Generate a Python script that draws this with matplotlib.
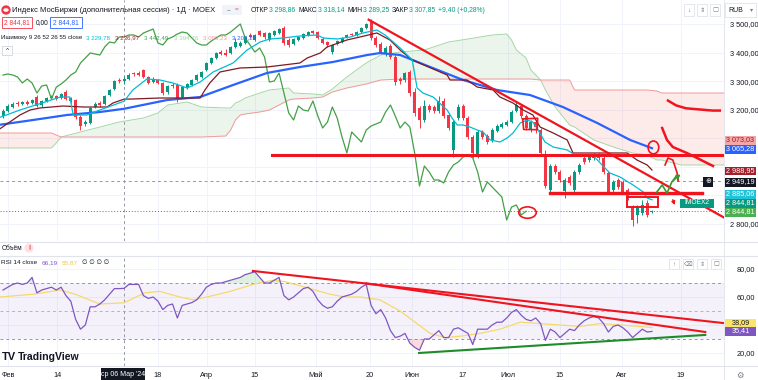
import numpy as np
import matplotlib.pyplot as plt
from matplotlib.patches import Rectangle, Ellipse

plt.rcParams['font.family'] = ['Liberation Sans', 'DejaVu Sans']

# ---- candles (IMOEX2, daily), Jan 31 .. Aug 8 2024
opens = [3178, 3195.5, 3209.5, 3223.5, 3220, 3227, 3223.5, 3244.5, 3216.5, 3230.5,
         3244.5, 3248, 3241, 3262, 3241, 3234, 3174.5, 3150, 3153.5, 3209.5,
         3223.5, 3220, 3251.5, 3272.5, 3304, 3298.86, 3307.5, 3328.5, 3328.5, 3339,
         3314.5, 3297, 3304, 3293.5, 3262, 3283, 3286.5, 3244.5, 3276, 3286.5,
         3304, 3314.5, 3339, 3363.5, 3381, 3402, 3398.5, 3398.5, 3419.5, 3423,
         3433.5, 3461.5, 3444, 3475.5, 3468.5, 3444, 3461.5, 3468.5, 3486, 3444,
         3430, 3444, 3451, 3461.5, 3475.5, 3472, 3447.5, 3437, 3402, 3430,
         3437, 3454.5, 3465, 3461.5, 3472, 3486, 3507, 3451,
         3430, 3395, 3423, 3384.5, 3307.5, 3304, 3332, 3262, 3206, 3164,
         3213, 3209.5, 3195.5, 3230.5, 3181.5, 3059, 3171, 3213, 3171, 3104.5,
         3041.5, 3122, 3108, 3094, 3125.5, 3139.5, 3146.5, 3157, 3195.5, 3213,
         3178, 3129, 3157, 3129, 3041.5, 2919, 3003, 2982, 2915.5, 2964.5,
         2919, 2982, 3031, 3024, 3031, 3041.5, 3031, 2978.5, 2919, 2954,
         2947, 2919, 2859.5, 2831.5, 2838.5, 2873.5, 2842]
closes = [3195.5, 3213, 3220, 3220, 3227, 3220, 3234, 3213, 3230.5, 3241,
          3241, 3237.5, 3255, 3237.5, 3230.5, 3174.5, 3143, 3157, 3206, 3220,
          3216.5, 3248, 3269, 3300.5, 3300.5, 3307.85, 3321.5, 3325, 3321.5, 3314.5,
          3293.5, 3307.5, 3293.5, 3258.5, 3283, 3286.5, 3237.5, 3279, 3290, 3304,
          3321.5, 3332, 3363.5, 3381, 3398.5, 3395, 3391.5, 3419.5, 3437, 3433.5,
          3454.5, 3454.5, 3461.5, 3461.5, 3454.5, 3468.5, 3475.5, 3482.5, 3433.5, 3426.5,
          3447.5, 3454.5, 3465, 3472, 3468.5, 3451, 3433.5, 3426.5, 3426.5, 3440.5,
          3451, 3461.5, 3461.5, 3472, 3486, 3500, 3451, 3426.5,
          3402, 3416, 3384.5, 3297, 3300.5, 3328.5, 3258.5, 3188.5, 3164, 3213,
          3199, 3195.5, 3230.5, 3178, 3136, 3157, 3209.5, 3171, 3104.5, 3048.5,
          3122, 3104.5, 3087, 3129, 3143, 3150, 3157, 3192, 3216.5, 3178,
          3136, 3157, 3139.5, 3048.5, 2933, 3003, 2982, 2954, 2954, 2943.5,
          2982, 3006.5, 3017, 3034.5, 3041.5, 3031, 2982, 2912, 2947, 2929.5,
          2912, 2894.5, 2814, 2859.5, 2866.5, 2831.5, 2844.81]
highs = [3202.5, 3220, 3227, 3230.5, 3230.5, 3234, 3237.5, 3251.5, 3234, 3244.5,
         3251.5, 3251.5, 3258.5, 3269, 3244.5, 3237.5, 3181.5, 3164, 3209.5, 3227,
         3230.5, 3251.5, 3272.5, 3304, 3311, 3318.14, 3328.5, 3332, 3335.5, 3342.5,
         3318, 3314.5, 3307.5, 3297, 3286.5, 3293.5, 3293.5, 3282.5, 3293.5, 3307.5,
         3325, 3335.5, 3367, 3384.5, 3402, 3409, 3412.5, 3423, 3451, 3440.5,
         3458, 3468.5, 3465, 3479, 3472, 3472, 3479, 3486, 3493, 3451,
         3451, 3458, 3468.5, 3475.5, 3479, 3475.5, 3454.5, 3440.5, 3430, 3444,
         3454.5, 3465, 3468.5, 3475.5, 3489.5, 3503.5, 3517.5, 3458,
         3437, 3423, 3430, 3391.5, 3314.5, 3332, 3339, 3276, 3213, 3234,
         3220, 3216.5, 3248, 3241, 3188.5, 3164, 3220, 3220, 3178, 3111.5,
         3129, 3129, 3115, 3136, 3150, 3157, 3164, 3199, 3227, 3220,
         3185, 3164, 3164, 3136, 3059, 3010, 3010, 2989, 2961, 2971.5,
         2989, 3013.5, 3038, 3041.5, 3048.5, 3048.5, 3038, 2985.5, 2954, 2961,
         2954, 2926, 2866.5, 2866.5, 2884, 2884, 2850]
lows = [3171, 3192, 3206, 3213, 3216.5, 3216.5, 3220, 3209.5, 3209.5, 3227,
        3237.5, 3234, 3237.5, 3234, 3223.5, 3167.5, 3129, 3143, 3150, 3206,
        3209.5, 3216.5, 3248, 3269, 3293.5, 3289.25, 3304, 3318, 3318, 3311,
        3290, 3293.5, 3290, 3251.5, 3255, 3276, 3227, 3241, 3272.5, 3283,
        3300.5, 3311, 3335.5, 3360, 3377.5, 3391.5, 3388, 3395, 3416, 3419.5,
        3430, 3451, 3440.5, 3458, 3447.5, 3440.5, 3458, 3465, 3426.5, 3419.5,
        3426.5, 3440.5, 3447.5, 3458, 3465, 3447.5, 3430, 3419.5, 3395, 3426.5,
        3433.5, 3451, 3458, 3458, 3468.5, 3482.5, 3444, 3419.5,
        3395, 3388, 3377.5, 3286.5, 3290, 3297, 3248, 3178, 3136, 3157,
        3192, 3188.5, 3188.5, 3171, 3129, 3034.5, 3164, 3164, 3097.5, 3031,
        3031, 3097.5, 3080, 3087, 3122, 3136, 3143, 3153.5, 3192, 3171,
        3129, 3122, 3118.5, 3041.5, 2926, 2908.5, 2975, 2947, 2891, 2936.5,
        2912, 2975, 3010, 3017, 3024, 3024, 2975, 2905, 2912, 2922.5,
        2905, 2884, 2793, 2803.5, 2831.5, 2824.5, 2838]

# ---- Ichimoku / MA lines, vertices (bar index, price)
tenkan_x = [-1, 3.5, 8.7, 11.8, 13.8, 14.5, 17.3, 20, 25, 26.8, 29.7, 32.4, 35.1, 38, 40.7, 43.4,
            47.5, 50.4, 53.1, 55.1, 57.8, 61.3, 64.9, 66.1, 69, 71.7, 74.3, 77.2, 78.9, 82, 84.5,
            85.5, 86.7, 88.8, 91.7, 92.7, 93.8, 95, 96.4, 97.9, 99.1, 100.6, 102.6, 104.1, 105.3,
            106.8, 108.2, 109.4, 110.5, 111.9, 113.6, 116.5, 118.1, 121.8, 123.3, 125.3, 127.4,
            130.1, 132.2, 133, 134]
tenkan_y = [3171, 3199, 3227, 3244.5, 3244.5, 3181.5, 3181.5, 3199, 3229.78, 3269, 3307.5, 3304,
            3293.5, 3276, 3297, 3332, 3363.5, 3409, 3437, 3447.5, 3451, 3458, 3461.5, 3451, 3447.5,
            3454.5, 3468.5, 3479, 3461.5, 3416, 3374, 3276, 3258.5, 3244.5, 3199, 3171, 3146.5,
            3146.5, 3139.5, 3129, 3122, 3094, 3087, 3101, 3118.5, 3153.5, 3164, 3157, 3129, 3087,
            3069.5, 3059, 3041.5, 3041.5, 3013.5, 2978.5, 2964.5, 2936.5, 2912, 2891, 2885.06]
kijun_x = [-1, 3.5, 5.6, 7.6, 12.4, 16.5, 21.5, 22.7, 25, 26.8, 32.4, 40.7, 41.7, 42.7, 44.8, 48.9,
           54.5, 61.3, 62.8, 65.5, 66.9, 71, 73.7, 77.2, 79.9, 82, 84.5, 91.7, 92.3, 95.8, 97.9,
           101.2, 102.6, 105.3, 107.4, 109.4, 110.9, 113.6, 116.5, 117.7, 128.9, 130.9, 133, 134]
kijun_y = [3129, 3181.5, 3199, 3206, 3213, 3209.5, 3209.5, 3223.5, 3236.97, 3237.5, 3241, 3241,
           3269, 3293.5, 3332, 3346, 3349.5, 3363.5, 3381, 3398.5, 3419.5, 3444, 3454.5, 3468.5,
           3444, 3409, 3374, 3321.5, 3304, 3304, 3279.5, 3269, 3244.5, 3223.5, 3199, 3181.5,
           3139.5, 3118.5, 3094, 3048.5, 3048.5, 3024, 3006.5, 2988.95]
ma_x = [-1, 6.2, 13.2, 20, 25, 33.9, 40.7, 47.5, 54.5, 61.3, 68.1, 75.2, 77.9, 82, 88.2, 95,
        102, 108.8, 115.6, 122.7, 129.5, 134]
ma_y = [3146.5, 3164, 3181.5, 3192, 3203.29, 3234, 3244.5, 3286.5, 3328.5, 3349.5, 3367, 3391.5,
        3398.5, 3391.5, 3349.5, 3304, 3269, 3251.5, 3209.5, 3153.5, 3094, 3065.28]
cloud_x = [-1, 10, 11, 12, 20, 24, 29, 32, 34, 38, 41, 46, 47, 48, 49, 50, 53, 55, 59, 60, 64, 66,
           68, 71, 75, 78, 82, 87, 92, 96, 101, 104, 105, 106, 108, 109, 111, 112, 114, 117, 118,
           122, 126, 130, 133, 135, 136, 140, 149]
span_a = [3066, 3066, 3083.5, 3104.5, 3139.5, 3157, 3171, 3188.5, 3216.5, 3227, 3209.5, 3206,
          3206, 3223.5, 3230.5, 3241, 3258.5, 3269, 3276, 3258.5, 3255, 3251.5, 3272.5, 3314.5,
          3363.5, 3391.5, 3402, 3409, 3437, 3447.5, 3461.5, 3465, 3444, 3409, 3381, 3339, 3304,
          3269, 3209.5, 3146.5, 3139.5, 3094, 3069.5, 3048.5, 3041.5, 3024, 3024, 3006.5, 3006.5]
span_b = [3118.5, 3118.5, 3111.5, 3104.5, 3104.5, 3104.5, 3104.5, 3104.5, 3104.5, 3104.5, 3104.5,
          3108, 3129, 3164, 3181.5, 3185, 3192, 3199, 3234, 3237.5, 3241, 3244.5, 3262, 3276,
          3290, 3304, 3307.5, 3307.5, 3307.5, 3307.5, 3307.5, 3307.5, 3307.5, 3307.5, 3307.5,
          3307.5, 3304, 3304, 3304, 3304, 3269, 3269, 3269, 3269, 3269, 3265.5, 3258.5, 3258.5,
          3258.5]
chikou_shift = 26

# ---- RSI 14 and its MA
rsi = [65, 67, 69, 70, 69, 70, 74, 63, 65, 66, 67, 65, 67, 61, 57, 44, 37, 40, 53, 53,
       55, 58, 62, 66, 66, 66.19, 69, 69, 69, 61, 59, 60, 57, 51, 54, 55, 45, 54, 55, 56,
       58, 62, 67, 69, 70, 70, 71, 72, 73, 74, 76, 77, 78, 74, 70, 70, 72, 74, 61, 58,
       60, 63, 66, 67, 64, 58, 54, 52, 53, 57, 60, 61, 62, 64, 67, 69, 54, 48,
       51, 45, 36, 31, 32, 34, 27, 24, 22, 30, 30, 33, 36, 31, 31, 37, 38, 36, 34, 26,
       37, 37, 37, 40, 42, 42, 45, 49, 51, 47, 44, 43, 45, 41, 29, 37, 35, 31, 34, 37,
       36, 40, 43, 45, 46, 45, 41, 35, 39, 40, 38, 35, 31, 34, 37, 35, 35.41]
rsi_ma_x = [-0.6, 6.2, 11.8, 14.9, 20, 25, 29.3, 32.4, 36.5, 39.2, 42.1, 46.9, 51.6, 55.8, 58.2,
            63.4, 67.5, 70.6, 73.7, 77.8, 82, 85.1, 88.2, 91.3, 94.4, 98.5, 102.6, 106.8, 110.9,
            115, 119.1, 123.3, 127.4, 131.5, 134]
rsi_ma_y = [60, 62, 65, 62, 55, 55.87, 63, 64, 60, 58, 60, 64, 69, 72, 71, 66, 62, 60, 60, 58, 50,
            42, 34, 31, 32, 34, 37, 42, 41, 40, 39, 41, 40, 39, 38.09]

# ---- axes ticks
tick_pos = [1, 11.2, 32, 42.1, 52, 64.6, 75.8, 84.5, 94.8, 104.3, 115, 127.8, 140]
tick_lbl = ['Фев', '14', '18', 'Апр', '15', 'Май', '20', 'Июн', '17', 'Июл', '15', 'Авг', '19']
price_ticks = [2800, 2900, 3000, 3100, 3200, 3300, 3400, 3500]
price_shown = [2800, 3200, 3300, 3400, 3500]
rsi_ticks = [20, 40, 60, 80]
rsi_shown = [20, 60, 80]
cross_bar = 25
cross_price = 2949.19
last_price = 2844.81

W, H = 758, 380
fig = plt.figure(figsize=(W / 100, H / 100), dpi=100)
fig.patch.set_facecolor('white')
rend = fig.canvas.get_renderer()


def box(x0, y0, x1, y1):
    return [x0 / W, 1 - y1 / H, (x1 - x0) / W, (y1 - y0) / H]


def ftext(x, y, s, **kw):
    kw.setdefault('va', 'center')
    kw.setdefault('fontsize', 5.0)
    kw.setdefault('color', '#131722')
    kw.setdefault('zorder', 7)
    return fig.text(x / W, 1 - y / H, s, **kw)


def seq(x, y, parts, fs):
    # lay out text pieces one after another
    for s, cl, gap in parts:
        t = ftext(x, y, s, fontsize=fs, color=cl)
        x = t.get_window_extent(renderer=rend).x1 + gap


def frect(x0, y0, x1, y1, fc, ec='none', lw=0.6):
    fig.patches.append(Rectangle((x0 / W, 1 - y1 / H), (x1 - x0) / W, (y1 - y0) / H,
                                 transform=fig.transFigure, fc=fc, ec=ec, lw=lw, zorder=5))


def fmt(v):
    return f'{v:,.2f}'.replace(',', ' ').replace('.', ',')


grid_c = '#F0F3FA'
ax = fig.add_axes(box(0, 0, 724, 241))
ax_r = fig.add_axes(box(0, 256, 724, 366))
for a in (ax, ax_r):
    a.set_xlim(-0.62, 148.87)
    for s in a.spines.values():
        s.set_visible(False)
    a.set_xticks(tick_pos)
    a.tick_params(length=0, labelsize=5.3, colors='#131722')
    a.yaxis.tick_right()
    a.set_axisbelow(True)
    a.grid(True, color=grid_c, lw=0.7)
ax.set_ylim(2740.5, 3584)
ax.set_yticks(price_ticks)
ax.set_yticklabels([fmt(v) if v in price_shown else '' for v in price_ticks])
ax.tick_params(axis='x', labelbottom=False)
ax.tick_params(axis='y', pad=4)
ax_r.set_ylim(10.7, 89.3)
ax_r.set_yticks(rsi_ticks)
ax_r.set_yticklabels([fmt(v) if v in rsi_shown else '' for v in rsi_ticks])
ax_r.tick_params(axis='y', pad=9)
ax_r.set_xticklabels(tick_lbl)
ax_r.tick_params(axis='x', pad=4)

# cloud
sa, sb = np.array(span_a), np.array(span_b)
ax.fill_between(cloud_x, sa, sb, where=sa >= sb, interpolate=True, color='#43A047', alpha=0.1, lw=0, zorder=1)
ax.fill_between(cloud_x, sa, sb, where=sa < sb, interpolate=True, color='#F44336', alpha=0.1, lw=0, zorder=1)
ax.plot(cloud_x, sa, color='#A5D6A7', lw=0.7, zorder=2)
ax.plot(cloud_x, sb, color='#EF9A9A', lw=0.7, zorder=2)

# candles
idx = np.arange(len(closes))
o, c, hi, lo = map(np.array, (opens, closes, highs, lows))
col = np.where(c >= o, '#089981', '#F23645')
ax.vlines(idx, lo, hi, colors=col, lw=0.7, zorder=4)
ax.bar(idx, np.maximum(np.abs(c - o), 1.8), bottom=np.minimum(o, c), width=0.62, color=col, lw=0, zorder=5)

# lines
ax.plot(idx[chikou_shift:] - chikou_shift, c[chikou_shift:], color='#43A047', lw=0.9, zorder=6)
ax.plot(ma_x, ma_y, color='#2962FF', lw=1.6, zorder=6)
ax.plot(kijun_x, kijun_y, color='#801922', lw=0.9, zorder=6)
ax.plot(tenkan_x, tenkan_y, color='#00BCD4', lw=0.9, zorder=6)

# crosshair + last price line
ax.axhline(cross_price, color='#9598A1', lw=0.7, ls=(0, (3, 3)), zorder=3)
ax.axhline(last_price, color='#089981', lw=0.7, ls=(0, (1, 2)), zorder=3)
for a in (ax, ax_r):
    a.axvline(cross_bar, color='#9598A1', lw=0.7, ls=(0, (3, 3)), zorder=3)

# hand drawings (main pane)
red = '#F0141E'
ax.plot([75.5, 150], [3515, 2812], color=red, lw=1.6, zorder=8)
ax.plot([55.6, 149], [3041.5, 3041.5], color=red, lw=2.2, zorder=8)
ax.plot([112.9, 144.4], [2907, 2907], color=red, lw=2.4, zorder=8)
ax.add_patch(Rectangle((128.9, 2859.5), 6.4, 35, fill=False, ec=red, lw=1.4, zorder=8))
ax.plot([107.3, 107.5, 110.3, 110.4, 107.3], [3168, 3131, 3130, 3170, 3168], color=red, lw=1.2, zorder=8)
ax.add_patch(Ellipse((108.3, 2840), 3.6, 40, fill=False, ec=red, lw=1.2, zorder=8))
ax.add_patch(Ellipse((134.3, 3068), 2.2, 45, fill=False, ec=red, lw=1.2, zorder=8))
ax.plot([137.3, 139.0, 141, 146.5, 148], [3232, 3215, 3205, 3197, 3197], color=red, lw=1.8, zorder=8)
ax.plot([136.1, 137.1, 138.3, 141.2, 143.3, 146.6], [3136, 3094, 3069.5, 3048.5, 3031, 3003], color=red, lw=1.8, zorder=8)
ax.plot([136.7, 137.3, 138.3, 139.2, 139.4], [3006.5, 3031, 3024, 2978.5, 2950.5], color=red, lw=1.2, zorder=8)
ax.annotate('', xy=(139.4, 2945), xytext=(139.3, 2965),
            arrowprops=dict(arrowstyle='-|>', color=red, lw=1.0, mutation_scale=5), zorder=8)
ax.annotate('', xy=(138.9, 2857), xytext=(138.1, 2894),
            arrowprops=dict(arrowstyle='-|>', color=red, lw=1.0, mutation_scale=5), zorder=8)
ax.plot([135.0, 136.1, 137.1, 138.1, 139.2], [2912, 2936.5, 2908.5, 2947, 2971.5], color='#2E9E2E', lw=1.2, zorder=8)
ax.annotate('', xy=(140.3, 2980), xytext=(138.1, 2947),
            arrowprops=dict(arrowstyle='-|>', color='#2E9E2E', lw=1.0, mutation_scale=5), zorder=8)

# RSI pane
rx = np.arange(len(rsi))
rv = np.array(rsi)
ax_r.axhspan(30, 70, color='#7E57C2', alpha=0.08, lw=0, zorder=1)
for lv, cl in ((70, '#9598A1'), (50, '#B2B5BE'), (30, '#9598A1')):
    ax_r.axhline(lv, color=cl, lw=0.7, ls=(0, (3, 3)), zorder=2)
ax_r.fill_between(rx, rv, 70, where=rv > 70, interpolate=True, color='#4CAF50', alpha=0.18, lw=0, zorder=2)
ax_r.fill_between(rx, rv, 30, where=rv < 30, interpolate=True, color='#F23645', alpha=0.18, lw=0, zorder=2)
ax_r.plot(rsi_ma_x, rsi_ma_y, color='#F5DA6B', lw=0.9, zorder=3)
ax_r.plot(rx, rv, color='#7E57C2', lw=0.9, zorder=4)
ax_r.plot([51.6, 148.7], [78.6, 41.4], color=red, lw=1.5, zorder=6)
ax_r.plot([75, 145], [69.7, 35], color=red, lw=1.5, zorder=6)
ax_r.plot([85.9, 145], [20, 32.9], color='#1E8C2A', lw=1.5, zorder=6)

# separators
for yy in (242, 256, 366):
    fig.add_artist(plt.Line2D([0, 1], [1 - yy / H] * 2, color='#E0E3EB', lw=0.8))
fig.add_artist(plt.Line2D([724 / W] * 2, [0, 1], color='#E0E3EB', lw=0.6))

# price axis labels
plabels = [(140, '3 073,03', '#F5A6A6', '#9E1B24'), (149, '3 065,28', '#2962FF', 'white'),
           (171, '2 988,95', '#A3202A', 'white'), (182, '2 949,19', '#131722', 'white'),
           (194, '2 885,06', '#22C3D6', 'white'), (203, '2 844,81', '#089981', 'white'),
           (212, '2 844,81', '#4CAF50', 'white'), (323, '38,09', '#FBE46A', '#131722'),
           (331, '35,41', '#7E57C2', 'white')]
for yy, s, fc, tc in plabels:
    frect(725, yy - 4.5, 756, yy + 4.5, fc)
    ftext(740.5, yy, s, ha='center', color=tc, fontsize=5.2)
frect(680, 198.5, 714, 207.5, '#089981')
ftext(697, 203, 'IMOEX2', ha='center', color='white', fontsize=4.8)
frect(703, 177, 713, 187, '#131722')
ftext(708, 182, '⊕', ha='center', color='white', fontsize=5)

# header
dark, teal = '#131722', '#089981'
fig.add_artist(Ellipse((6 / W, 1 - 10 / H), 8 / W, 8 / H, transform=fig.transFigure, color='#F23645'))
fig.add_artist(Ellipse((6 / W, 1 - 10 / H), 4 / W, 2.2 / H, transform=fig.transFigure, color='white'))
ftext(12, 10, 'Индекс МосБиржи (дополнительная сессия) · 1Д · MOEX', fontsize=5.5)
frect(222, 5, 242, 15, '#F0F3FA')
ftext(227, 10, '−', fontsize=4.6, color='#787B86')
ftext(235, 10, '=', fontsize=4.6, color='#F23645')
seq(251, 10, [('ОТКР', dark, 0.5), ('3 298,86', teal, 3), ('МАКС', dark, 0.5), ('3 318,14', teal, 3),
              ('МИН', dark, 0.5), ('3 289,25', teal, 3), ('ЗАКР', dark, 0.5), ('3 307,85', teal, 3),
              ('+9,40 (+0,28%)', teal, 0)], 4.9)
frect(2, 17, 32, 28, 'white', ec='#F23645')
ftext(17, 22.5, '2 844,81', ha='center', fontsize=4.8, color='#F23645')
ftext(36, 22.5, '0,00', fontsize=4.8, color=dark)
frect(50, 17, 82, 28, 'white', ec='#2962FF')
ftext(66, 22.5, '2 844,81', ha='center', fontsize=4.8, color='#2962FF')
seq(1, 38, [('Ишимоку 9 26 52 26 55 close', dark, 4), ('3 229,78', '#00BCD4', 5),
            ('3 236,97', '#A3202A', 5), ('3 442,49', '#43A047', 5), ('3 394,76', '#A5D6A7', 5),
            ('3 099,23', '#EF9A9A', 5), ('3 203,29', '#2962FF', 0)], 4.4)
frect(2, 46, 12, 55, 'white', ec='#D1D4DC')
ftext(7, 50.5, '^', ha='center', fontsize=4.6)
for x0, s in ((684, '↓'), (697, '⇕'), (710, '▢')):
    frect(x0, 4, x0 + 10, 16, 'white', ec='#E0E3EB')
    ftext(x0 + 5, 10, s, ha='center', fontsize=4.6, color='#787B86')
frect(725, 3, 756, 17, 'white', ec='#E0E3EB')
ftext(728, 10, 'RUB', fontsize=5.0)
ftext(750, 10, '▾', fontsize=4.4, color='#787B86')

# pane labels
ftext(2, 248, 'Объём', fontsize=4.7)
fig.add_artist(Ellipse((29 / W, 1 - 248 / H), 8 / W, 8 / H, transform=fig.transFigure, color='#FDE2E4'))
ftext(29, 248, '!', ha='center', fontsize=4.8, color='#F23645', fontweight='bold')
seq(1, 263, [('RSI 14 close', dark, 4), ('66,19', '#7E57C2', 4), ('55,87', '#F5C542', 5),
             ('∅ ∅ ∅ ∅', dark, 0)], 4.6)
for x0, s in ((669, '↑'), (683, '⌫'), (697, '⇕'), (711, '▢')):
    frect(x0, 259, x0 + 10, 269, 'white', ec='#E0E3EB')
    ftext(x0 + 5, 264, s, ha='center', fontsize=4.4, color='#787B86')

# time axis crosshair label + logo + gear
frect(101, 368, 145, 380, '#131722')
ftext(123, 374.5, "ср 06 Мар '24", ha='center', fontsize=5.0, color='white')
ftext(2, 357, 'TV', fontsize=8, fontweight='bold')
ftext(18, 357, 'TradingView', fontsize=7.6, fontweight='bold')
ftext(740, 376, '⚙', ha='center', fontsize=6, color='#787B86')

fig.savefig('out.png', dpi=100)
